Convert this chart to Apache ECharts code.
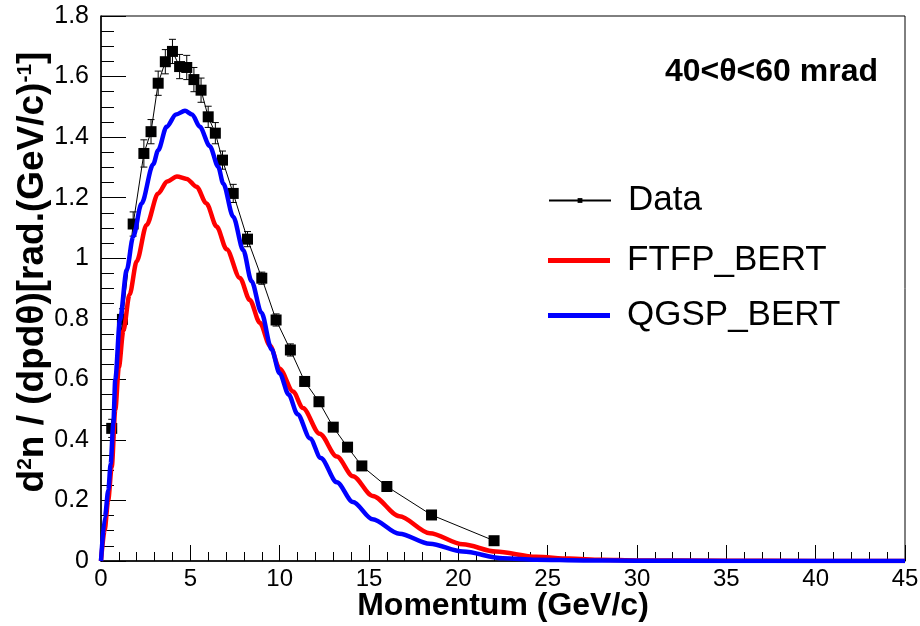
<!DOCTYPE html>
<html>
<head>
<meta charset="utf-8">
<script src="https://cdn.jsdelivr.net/npm/echarts@6/dist/echarts.min.js"></script>
<style>
html,body{margin:0;padding:0;background:#fff;}
#chart{width:920px;height:626px;}
</style>
</head>
<body>
<div id="chart"></div>
<script>
// Data points (measured)
const dataX = [0.6,1.2,1.8,2.4,2.8,3.2,3.6,4.0,4.4,4.8,5.2,5.6,6.0,6.4,6.8,7.4,8.2,9.0,9.8,10.6,11.4,12.2,13.0,13.8,14.6,16.0,18.5,22.0];
const dataY = [0.438,0.798,1.113,1.346,1.418,1.578,1.649,1.683,1.633,1.630,1.590,1.555,1.467,1.413,1.324,1.214,1.063,0.934,0.796,0.697,0.593,0.526,0.442,0.376,0.314,0.246,0.152,0.067];
const dataErr = [0.03,0.035,0.04,0.045,0.04,0.04,0.04,0.04,0.04,0.04,0.04,0.04,0.035,0.035,0.03,0.03,0.025,0.02,0.02,0.02,0.015,0.015,0.012,0.01,0.01,0.008,0.006,0.004];

// FTFP_BERT simulation
const ftfpX = [0,0.2,0.4,0.6,0.8,1.0,1.25,1.6,2.0,2.55,3.2,3.7,4.25,4.8,5.35,5.9,6.47,7.03,7.77,8.33,8.89,9.45,10.0,10.75,11.3,12.24,13.2,14.1,15.2,16.7,18.4,20.25,22.1,24.35,26.2,28,30,35,40,45];
const ftfpY = [0,0.1,0.2,0.31,0.5,0.64,0.76,0.88,0.99,1.11,1.214,1.253,1.27,1.262,1.236,1.181,1.105,1.03,0.935,0.862,0.787,0.712,0.635,0.56,0.505,0.42,0.345,0.28,0.215,0.148,0.092,0.055,0.031,0.014,0.008,0.004,0.002,0.001,0,0];

// QGSP_BERT simulation
const qgspX = [0,0.22,0.41,0.54,0.69,0.8,1.06,1.44,1.8,2.27,2.92,3.2,3.67,4.2,4.7,5.1,5.53,6.09,6.56,6.84,7.4,7.96,8.42,8.98,9.54,10.0,10.5,11.0,11.7,12.3,13.2,14.1,15.2,16.7,18.4,20.25,22.5,24.35,27,30,35,45];
const qgspY = [0,0.146,0.234,0.32,0.455,0.6,0.796,0.961,1.071,1.181,1.31,1.357,1.434,1.475,1.487,1.475,1.434,1.37,1.302,1.247,1.137,1.027,0.925,0.82,0.70,0.62,0.55,0.485,0.405,0.34,0.26,0.195,0.138,0.09,0.057,0.031,0.009,0.004,0.002,0.001,0,0];

const xTicks = {min:0, max:45, interval:5};
const yTicks = {min:0, max:1.8, interval:0.2};
const seriesNames = ['Data','FTFP_BERT','QGSP_BERT'];

const zip = (xs, ys) => xs.map((x,i)=>[x, ys[i]]);
const errData = dataX.map((x,i)=>[x, dataY[i], dataErr[i]]);

const FONT = 'Liberation Sans, Arial, Helvetica, sans-serif';
const chart = echarts.init(document.getElementById('chart'), null, {renderer:'canvas'});

const legendBase = {
  orient:'horizontal', left:548, itemWidth:62, itemGap:0, padding:0,
  textStyle:{fontFamily:FONT, fontSize:35, color:'#000', padding:[0,0,0,12]},
  selectedMode:false, inactiveColor:'#000'
};

chart.setOption({
  animation:false,
  backgroundColor:'#fff',
  grid:{left:101, right:15, top:16, bottom:65, show:true, borderColor:'#000', borderWidth:1,
        backgroundColor:'transparent', containLabel:false, outerBoundsMode:'none'},
  legend:[
    Object.assign({}, legendBase, {top:183, itemHeight:6, data:[{name:seriesNames[0]}]}),
    Object.assign({}, legendBase, {top:243, itemHeight:5, data:[{name:seriesNames[1], icon:'rect'}]}),
    Object.assign({}, legendBase, {top:298, itemHeight:5, data:[{name:seriesNames[2], icon:'rect'}]})
  ],
  xAxis:{
    type:'value', min:xTicks.min, max:xTicks.max, interval:xTicks.interval,
    axisLine:{show:true, onZero:false, lineStyle:{color:'#000', width:1.5}},
    axisTick:{show:true, inside:true, length:16, lineStyle:{color:'#000', width:1}},
    minorTick:{show:true, splitNumber:5, length:9, lineStyle:{color:'#000', width:1}},
    axisLabel:{color:'#000', fontFamily:FONT, fontSize:24, margin:6},
    splitLine:{show:false},
    name:'Momentum (GeV/c)', nameLocation:'middle', nameGap:29, nameMoveOverlap:false,
    nameTextStyle:{color:'#000', fontFamily:FONT, fontSize:32, fontWeight:'bold'}
  },
  yAxis:{
    type:'value', min:yTicks.min, max:yTicks.max, interval:yTicks.interval,
    axisLine:{show:true, onZero:false, lineStyle:{color:'#000', width:1.5}},
    axisTick:{show:true, inside:true, length:25, lineStyle:{color:'#000', width:1}},
    minorTick:{show:true, splitNumber:4, length:13, lineStyle:{color:'#000', width:1}},
    axisLabel:{color:'#000', fontFamily:FONT, fontSize:25, margin:12},
    splitLine:{show:false}
  },
  graphic:[
    {type:'text', x:878, y:72, z:100,
     style:{text:'40<θ<60 mrad', font:'bold 32px '+FONT, fill:'#000', align:'right', verticalAlign:'middle'}},
    {type:'text', x:33, y:272, rotation:Math.PI/2, z:100,
     style:{
       text:'{m|d}{s|2}{m|n / (dpdθ)[rad.(GeV/c)}{s|-1}{m|]}',
       align:'center', verticalAlign:'middle', fill:'#000',
       rich:{
         m:{fontFamily:FONT, fontSize:37, fontWeight:'bold', fill:'#000', verticalAlign:'bottom'},
         s:{fontFamily:FONT, fontSize:21, fontWeight:'bold', fill:'#000', verticalAlign:'top'}
       }
     }}
  ],
  series:[
    {name:'Data', type:'line', data:zip(dataX,dataY), symbol:'rect', symbolSize:11,
     itemStyle:{color:'#000'}, lineStyle:{color:'#000', width:1}, z:2},
    {name:'Data-err', type:'custom', data:errData, encode:{x:0,y:1}, z:2,
     renderItem:function(params, api){
       const x=api.value(0), y=api.value(1), e=api.value(2);
       const t=api.coord([x,y+e]), b=api.coord([x,y-e]);
       const h=3.5;
       const st={stroke:'#000', lineWidth:1};
       return {type:'group', children:[
         {type:'line', shape:{x1:t[0],y1:t[1],x2:b[0],y2:b[1]}, style:st},
         {type:'line', shape:{x1:t[0]-h,y1:t[1],x2:t[0]+h,y2:t[1]}, style:st},
         {type:'line', shape:{x1:b[0]-h,y1:b[1],x2:b[0]+h,y2:b[1]}, style:st}
       ]};
     }},
    {name:'FTFP_BERT', type:'line', data:zip(ftfpX,ftfpY), symbol:'none', smooth:0.3, smoothMonotone:'x',
     itemStyle:{color:'#ff0000'}, lineStyle:{color:'#ff0000', width:4.5}, z:3},
    {name:'QGSP_BERT', type:'line', data:zip(qgspX,qgspY), symbol:'none', smooth:0.3, smoothMonotone:'x',
     itemStyle:{color:'#0000ff'}, lineStyle:{color:'#0000ff', width:4.5}, z:4}
  ]
});
</script>
</body>
</html>
